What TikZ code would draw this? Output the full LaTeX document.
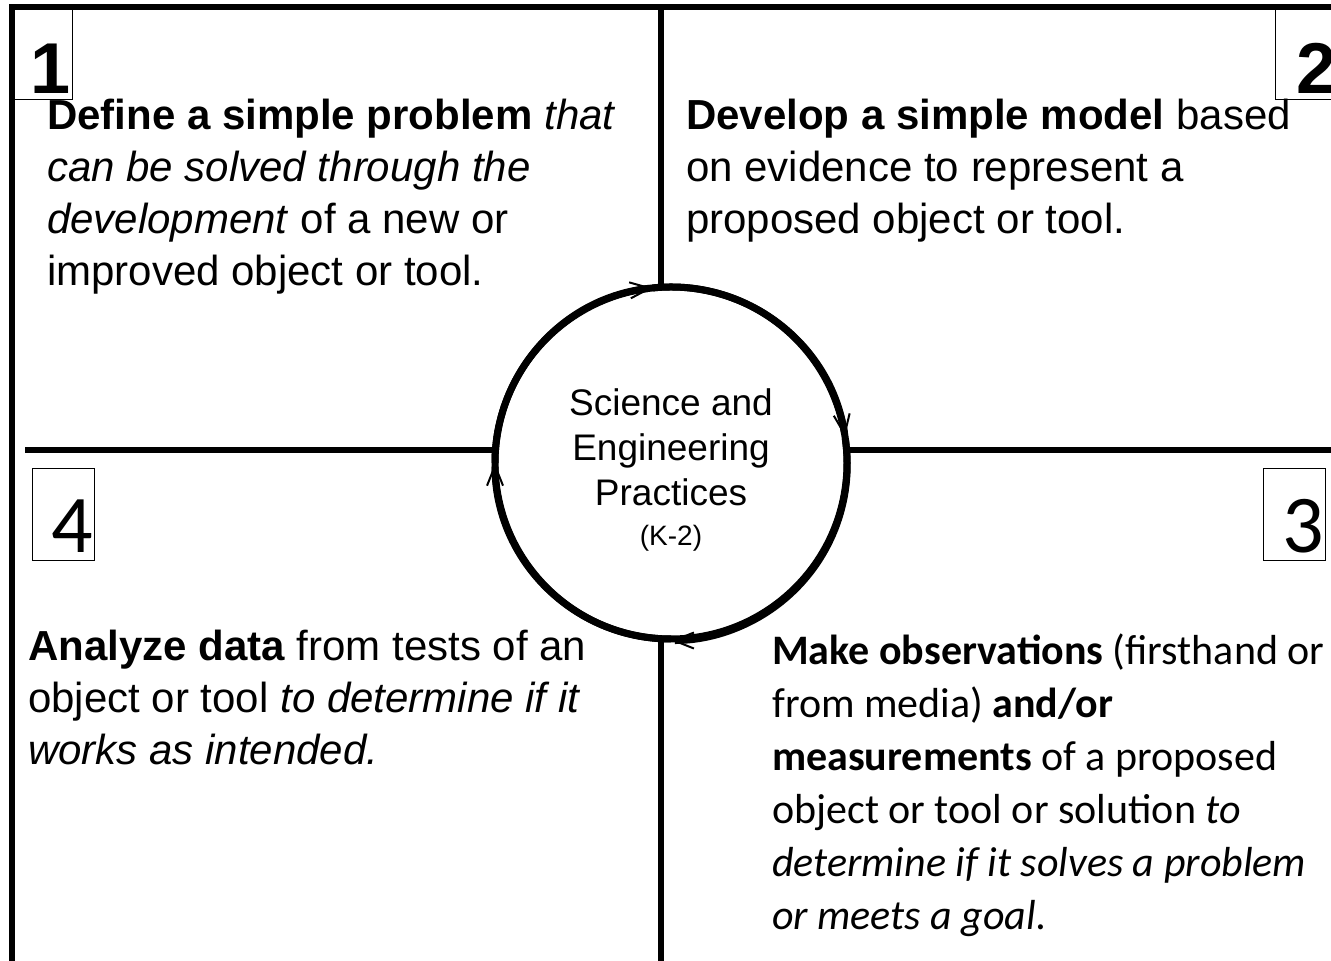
\documentclass[tikz,border=0pt]{standalone}
\usepackage{fontspec}
\setmainfont{Liberation Sans}
\newfontfamily\calfont{Carlito}
\usetikzlibrary{arrows.meta}

\begin{document}
\begin{tikzpicture}[x=1pt,y=1pt,
	frame/.style={line width=6pt},
	numbox/.style={line width=0.8pt},
	numarial/.style={anchor=base,inner sep=0pt,font=\fontsize{72}{72}\selectfont\bfseries},
	numcal/.style={anchor=base,inner sep=0pt,font=\fontsize{82}{82}\selectfont\calfont},
	blurb/.style={anchor=base west,inner sep=0pt,align=left,font=\fontsize{42}{52}\selectfont},
	calblurb/.style={blurb,font=\fontsize{42}{53}\selectfont\calfont},
	hub/.style={circle,draw,line width=7pt,fill=white,inner sep=0pt,outer sep=0pt,minimum size=352pt},
	hubtext/.style={inner sep=0pt,align=center,font=\fontsize{37}{45}\selectfont},
	ring/.style={line width=7pt,-{Straight Barb[length=20pt,width=16pt,line width=2pt]}}]
				\useasboundingbox (0,0) rectangle (1331,961);
				
				\draw[frame] (12,0) -- (12,954) -- (1331,954);
				\draw[frame] (661,954) -- (661,0);
				\draw[frame] (25,511) -- (1331,511);
				
				\draw[numbox] (12,862) rectangle (72,954);
				\draw[numbox] (1275,862) rectangle (1340,954);
				\draw[numbox] (32,401) rectangle (94,493);
				\draw[numbox] (1263,401) rectangle (1325,493);
				\node[numarial] (n1) at (51,867) {1};
				\node[numarial] (n2) at (1317,867) {2};
				\node[numcal] (n4) at (72,408) {4};
				\node[numcal] (n3) at (1303,408) {3};
				
				\node[hub] (hub) at (671,498) {};
				\node[hubtext] (title) at (671,491) {Science and\\Engineering\\Practices\\[-5pt]{\fontsize{28}{34}\selectfont (K-2)}};
				\draw[ring] (hub.180) arc[start angle=180, end angle=96, radius=176];
				\draw[ring] (hub.96) arc[start angle=96, end angle=8.5, radius=176];
				\draw[ring] (hub.8.5) arc[start angle=8.5, end angle=-90, radius=176];
				\draw[ring] (hub.-90) arc[start angle=-90, end angle=-180, radius=176];
				
				\node[blurb] (define) at (47,675) {\textbf{Define a simple problem} \textit{that}\\\textit{can be solved through the}\\\textit{development} of a new or\\improved object or tool.};
				\node[blurb] (model) at (686,727) {\textbf{Develop a simple model} based\\on evidence to represent a\\proposed object or tool.};
				\node[blurb] (analyze) at (28,196) {\textbf{Analyze data} from tests of an\\object or tool \textit{to determine if it}\\\textit{works as intended.}};
				\node[calblurb] (observe) at (772,31) {\textbf{Make observations} (firsthand or\\from media) \textbf{and/or}\\\textbf{measurements} of a proposed\\object or tool or solution \textit{to}\\\textit{determine if it solves a problem}\\\textit{or meets a goal.}};
			\end{tikzpicture}
\end{document}
